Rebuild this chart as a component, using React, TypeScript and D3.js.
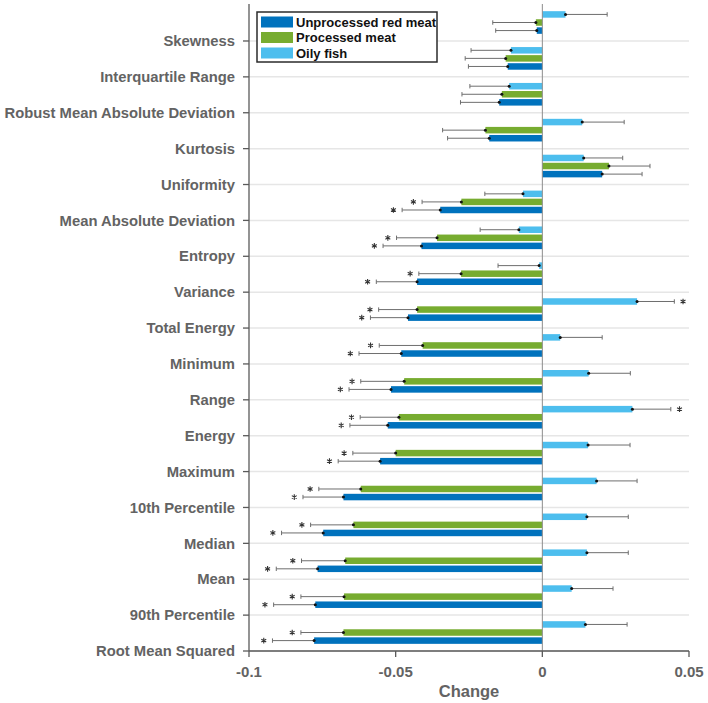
import React from "react";
import * as d3 from "d3";

const categories = [
  "Skewness", "Interquartile Range", "Robust Mean Absolute Deviation", "Kurtosis",
  "Uniformity", "Mean Absolute Deviation", "Entropy", "Variance", "Total Energy",
  "Minimum", "Range", "Energy", "Maximum", "10th Percentile", "Median", "Mean",
  "90th Percentile", "Root Mean Squared",
];
const seriesNames = ["Unprocessed red meat", "Processed meat", "Oily fish"];
const seriesColors = ["#0072BD", "#77AC30", "#4DBEEE"];

const redMeat = [-0.0019, -0.0118, -0.0147, -0.0181, 0.0204, -0.0348, -0.0412, -0.0427, -0.0458, -0.0481, -0.0516, -0.0527, -0.0553, -0.0678, -0.0747, -0.0766, -0.0774, -0.0778];
const redMeatCI = [-0.0159, -0.0252, -0.0279, -0.0323, 0.034, -0.0478, -0.0543, -0.0566, -0.0586, -0.0625, -0.0659, -0.0656, -0.0696, -0.0816, -0.0889, -0.0907, -0.0916, -0.092];
const redMeatSig = [0, 0, 0, 0, 0, 1, 1, 1, 1, 1, 1, 1, 1, 1, 1, 1, 1, 1];

const processed = [-0.0022, -0.0125, -0.0138, -0.0194, 0.0227, -0.0276, -0.0359, -0.0277, -0.0427, -0.0408, -0.0471, -0.0489, -0.05, -0.0619, -0.0644, -0.0672, -0.0676, -0.0678];
const processedCI = [-0.0169, -0.0263, -0.0274, -0.034, 0.0367, -0.041, -0.0497, -0.0421, -0.0558, -0.0556, -0.0619, -0.0621, -0.0646, -0.0762, -0.079, -0.0821, -0.0823, -0.0823];
const processedSig = [0, 0, 0, 0, 0, 1, 1, 1, 1, 1, 1, 1, 1, 1, 1, 1, 1, 1];

const oilyFish = [0.0079, -0.0107, -0.0113, 0.0136, 0.0141, -0.0066, -0.008, -0.0011, 0.0323, 0.0061, 0.0158, 0.0307, 0.0156, 0.0185, 0.0152, 0.0152, 0.01, 0.0147];
const oilyFishCI = [0.0221, -0.0243, -0.0247, 0.0279, 0.0274, -0.0196, -0.0212, -0.0151, 0.045, 0.0204, 0.03, 0.0438, 0.0299, 0.0323, 0.0293, 0.0293, 0.0241, 0.0289];
const oilyFishSig = [0, 0, 0, 0, 0, 0, 0, 0, 1, 0, 0, 1, 0, 0, 0, 0, 0, 0];

const xTicks = [-0.1, -0.05, 0, 0.05];
const xTickLabels = ["-0.1", "-0.05", "0", "0.05"];
const xLabel = "Change";

const values = [redMeat, processed, oilyFish];
const cis = [redMeatCI, processedCI, oilyFishCI];
const sigs = [redMeatSig, processedSig, oilyFishSig];
// offsets within slot (fraction of slot above tick)
const seriesOffset = [0.29, 0.515, 0.74];

export default function App() {
  const W = 708, H = 703;
  const x = d3.scaleLinear().domain([-0.1, 0.05]).range([249, 689]);
  const y = d3.scaleLinear().domain([0, categories.length]).range([5.1, 651]);
  const slot = y(1) - y(0);
  const barH = 6.5;
  const star = d3.symbol().type(d3.symbolAsterisk).size(22)();
  const labelColor = "#636363";
  const font = "'Liberation Sans', Arial, Helvetica, sans-serif";

  return (
    <svg width={W} height={H} style={{ position: "absolute", left: 0, top: 0, background: "#fff" }} fontFamily={font}>
      {/* grid lines */}
      {categories.map((c, i) => (
        <line key={"g" + i} x1={x(-0.1)} x2={x(0.05)} y1={y(i + 1)} y2={y(i + 1)} stroke="#e6e6e6" strokeWidth={1.5} />
      ))}
      {/* bars */}
      {values.map((vals, s) =>
        vals.map((v, i) => {
          const cy = y(i + 1) - seriesOffset[s] * slot;
          const x0 = x(0), x1 = x(v);
          return (
            <rect key={`b${s}-${i}`} x={Math.min(x0, x1)} y={cy - barH / 2} width={Math.abs(x1 - x0)} height={barH} fill={seriesColors[s]} />
          );
        })
      )}
      {/* error bars */}
      {values.map((vals, s) =>
        vals.map((v, i) => {
          const cy = y(i + 1) - seriesOffset[s] * slot;
          const xv = x(v), xe = x(cis[s][i]);
          const dir = Math.sign(xe - xv);
          return (
            <g key={`e${s}-${i}`}>
              <line x1={xv} x2={xe} y1={cy} y2={cy} stroke="#6e6e6e" strokeWidth={1} />
              <line x1={xe} x2={xe} y1={cy - 2.2} y2={cy + 2.2} stroke="#6e6e6e" strokeWidth={1} />
              <circle cx={xv} cy={cy} r={1.5} fill="#111" />
              {sigs[s][i] ? (
                <path d={star} transform={`translate(${xe + dir * 8.7},${cy})`} stroke="#333" strokeWidth={1.1} fill="none" />
              ) : null}
            </g>
          );
        })
      )}
      {/* zero line */}
      <line x1={x(0)} x2={x(0)} y1={4} y2={651} stroke="#8c8c8c" strokeWidth={1} />
      {/* y axis */}
      <line x1={x(-0.1)} x2={x(-0.1)} y1={4} y2={651} stroke="#5a5a5a" strokeWidth={1.3} />
      {categories.map((c, i) => (
        <g key={"yt" + i}>
          <line x1={x(-0.1) - 6} x2={x(-0.1)} y1={y(i + 1)} y2={y(i + 1)} stroke="#5a5a5a" strokeWidth={1.3} />
          <text x={235} y={y(i + 1)} dy="0.35em" textAnchor="end" fontSize={14.8} fontWeight="bold" fill={labelColor}>{c}</text>
        </g>
      ))}
      {/* x axis */}
      <line x1={x(-0.1)} x2={x(0.05)} y1={651} y2={651} stroke="#5a5a5a" strokeWidth={1.3} />
      {xTicks.map((t, i) => (
        <g key={"xt" + i}>
          <line x1={x(t)} x2={x(t)} y1={651} y2={657} stroke="#5a5a5a" strokeWidth={1.3} />
          <text x={x(t)} y={672} dy="0.35em" textAnchor="middle" fontSize={15} fontWeight="bold" fill={labelColor}>{xTickLabels[i]}</text>
        </g>
      ))}
      <text x={(x(-0.1) + x(0.05)) / 2} y={691} dy="0.35em" textAnchor="middle" fontSize={16.5} fontWeight="bold" fill={labelColor}>{xLabel}</text>
      {/* legend */}
      <g>
        <rect x={257} y={12} width={180} height={50} fill="#fff" stroke="#2b2b2b" strokeWidth={1.5} />
        {seriesNames.map((n, s) => (
          <g key={"l" + s}>
            <rect x={261} y={16.5 + s * 15.5} width={32} height={11} fill={seriesColors[s]} />
            <text x={296} y={22 + s * 15.5} dy="0.35em" fontSize={13} fontWeight="bold" fill="#111">{n}</text>
          </g>
        ))}
      </g>
    </svg>
  );
}
